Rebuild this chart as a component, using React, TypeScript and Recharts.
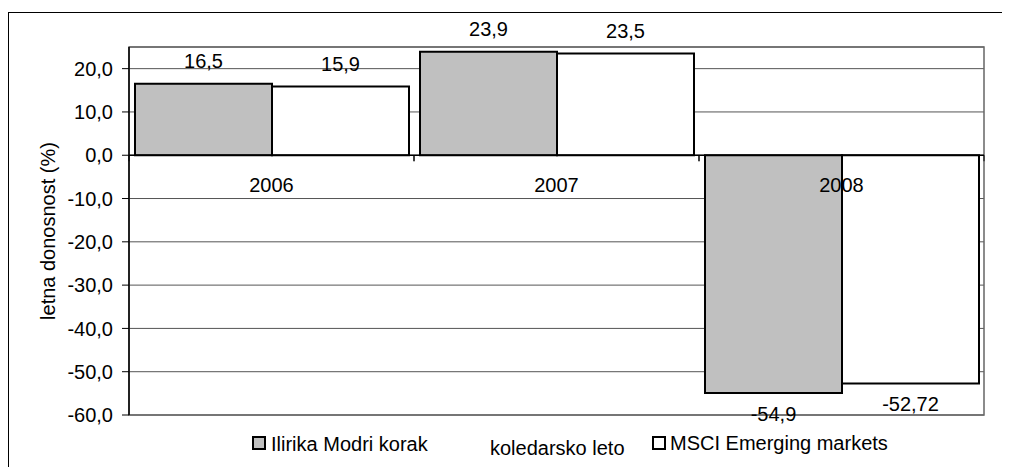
import {
  Bar,
  BarChart,
  CartesianGrid,
  LabelList,
  Legend,
  ReferenceArea,
  ReferenceLine,
  XAxis,
  YAxis,
} from "recharts";

const years = ["2006", "2007", "2008"];
const ilirika = [16.5, 23.9, -54.9];
const msci = [15.9, 23.5, -52.72];
const yTicks = [-60, -50, -40, -30, -20, -10, 0, 10, 20];

const W = 1002;
const H = 459;
const LEGEND_H = 30;
const X_AXIS_H = 20;
const MARGIN = { top: 39, right: 26, left: 0, bottom: 2 };
const Y_AXIS_W = 121;
const Y_MIN = -60;
const Y_MAX = 25;
const FONT = "'Liberation Sans', Arial, sans-serif";
const FS = 20;

const plotH = H - MARGIN.top - MARGIN.bottom - LEGEND_H - X_AXIS_H;
const plotW = W - MARGIN.left - MARGIN.right - Y_AXIS_W;
const zeroY = MARGIN.top + ((Y_MAX - 0) / (Y_MAX - Y_MIN)) * plotH;
const band = plotW / years.length;

const data = years.map((year, i) => ({
  year,
  ilirika: ilirika[i],
  msci: msci[i],
}));

const comma = (v: number) => String(v).replace(".", ",");

function ValueLabel(props: any) {
  const { x, y, width, height, value } = props;
  const top = Math.min(y, y + height);
  const bottom = Math.max(y, y + height);
  const ty = value >= 0 ? top - 15.5 : bottom + 28;
  return (
    <text
      x={x + width / 2}
      y={ty}
      textAnchor="middle"
      fontFamily={FONT}
      fontSize={FS}
      fill="#000"
    >
      {comma(value)}
    </text>
  );
}

function YearTick(props: any) {
  const { x, payload } = props;
  return (
    <g>
      <line x1={x - band / 2} x2={x - band / 2} y1={zeroY} y2={zeroY + 6} stroke="#000" />
      <line x1={x + band / 2} x2={x + band / 2} y1={zeroY} y2={zeroY + 6} stroke="#000" />
      <text
        x={x}
        y={zeroY + 37}
        textAnchor="middle"
        fontFamily={FONT}
        fontSize={FS}
        fill="#000"
      >
        {payload.value}
      </text>
    </g>
  );
}

function YTitle(props: any) {
  const { viewBox } = props;
  const cx = 47;
  const cy = viewBox.y + viewBox.height / 2;
  return (
    <text
      x={cx}
      y={cy}
      transform={`rotate(-90, ${cx}, ${cy})`}
      textAnchor="middle"
      fontFamily={FONT}
      fontSize={FS}
      fill="#000"
    >
      letna donosnost (%)
    </text>
  );
}

function LegendBox() {
  return (
    <svg width={W} height={LEGEND_H} style={{ display: "block", overflow: "visible" }}>
      <g fontFamily={FONT} fontSize={FS} fill="#000">
        <rect x={245} y={9} width={12} height={12} fill="#c0c0c0" stroke="#000" strokeWidth={2} />
        <text x={263} y={23}>Ilirika Modri korak</text>
        <text x={482} y={27}>koledarsko leto</text>
        <rect x={645} y={9} width={12} height={12} fill="#fff" stroke="#000" strokeWidth={2} />
        <text x={662} y={22}>MSCI Emerging markets</text>
      </g>
    </svg>
  );
}

export default function App() {
  return (
    <div style={{ position: "relative", width: W, height: H }}>
      <div
        style={{
          position: "absolute",
          left: 0,
          top: 4,
          width: W + 10,
          height: H + 10,
          borderLeft: "1px solid #000",
          borderTop: "1px solid #000",
          boxSizing: "border-box",
        }}
      />
      <div style={{ position: "absolute", left: 0, top: 0 }}>
        <BarChart
          width={W}
          height={H}
          data={data}
          margin={MARGIN}
          barGap={0}
          barCategoryGap={6}
        >
          <CartesianGrid vertical={false} stroke="#555" strokeWidth={1} />
          <ReferenceArea
            y1={Y_MIN}
            y2={Y_MAX}
            fill="none"
            stroke="#666"
            strokeWidth={1.5}
            ifOverflow="visible"
          />
          <YAxis
            width={Y_AXIS_W}
            domain={[Y_MIN, Y_MAX]}
            ticks={yTicks}
            allowDataOverflow
            tickFormatter={(v: number) => v.toFixed(1).replace(".", ",")}
            tick={{ fill: "#000", fontSize: FS, fontFamily: FONT }}
            tickSize={7}
            tickMargin={9}
            axisLine={{ stroke: "#000", strokeWidth: 1.5 }}
            tickLine={{ stroke: "#000" }}
            label={<YTitle />}
          />
          <Bar
            dataKey="ilirika"
            name="Ilirika Modri korak"
            fill="#c0c0c0"
            stroke="#000"
            strokeWidth={2}
            isAnimationActive={false}
          >
            <LabelList dataKey="ilirika" content={<ValueLabel />} />
          </Bar>
          <Bar
            dataKey="msci"
            name="MSCI Emerging markets"
            fill="#fff"
            stroke="#000"
            strokeWidth={2}
            isAnimationActive={false}
          >
            <LabelList dataKey="msci" content={<ValueLabel />} />
          </Bar>
          <ReferenceLine y={0} stroke="#000" strokeWidth={1.5} />
          <XAxis
            dataKey="year"
            height={X_AXIS_H}
            axisLine={false}
            tickLine={false}
            tick={(p: any) => <YearTick {...p} />}
            interval={0}
          />
          <Legend
            verticalAlign="bottom"
            content={<LegendBox />}
            wrapperStyle={{ left: 0, top: 420, bottom: "auto", width: W, height: LEGEND_H }}
          />
        </BarChart>
      </div>
    </div>
  );
}
